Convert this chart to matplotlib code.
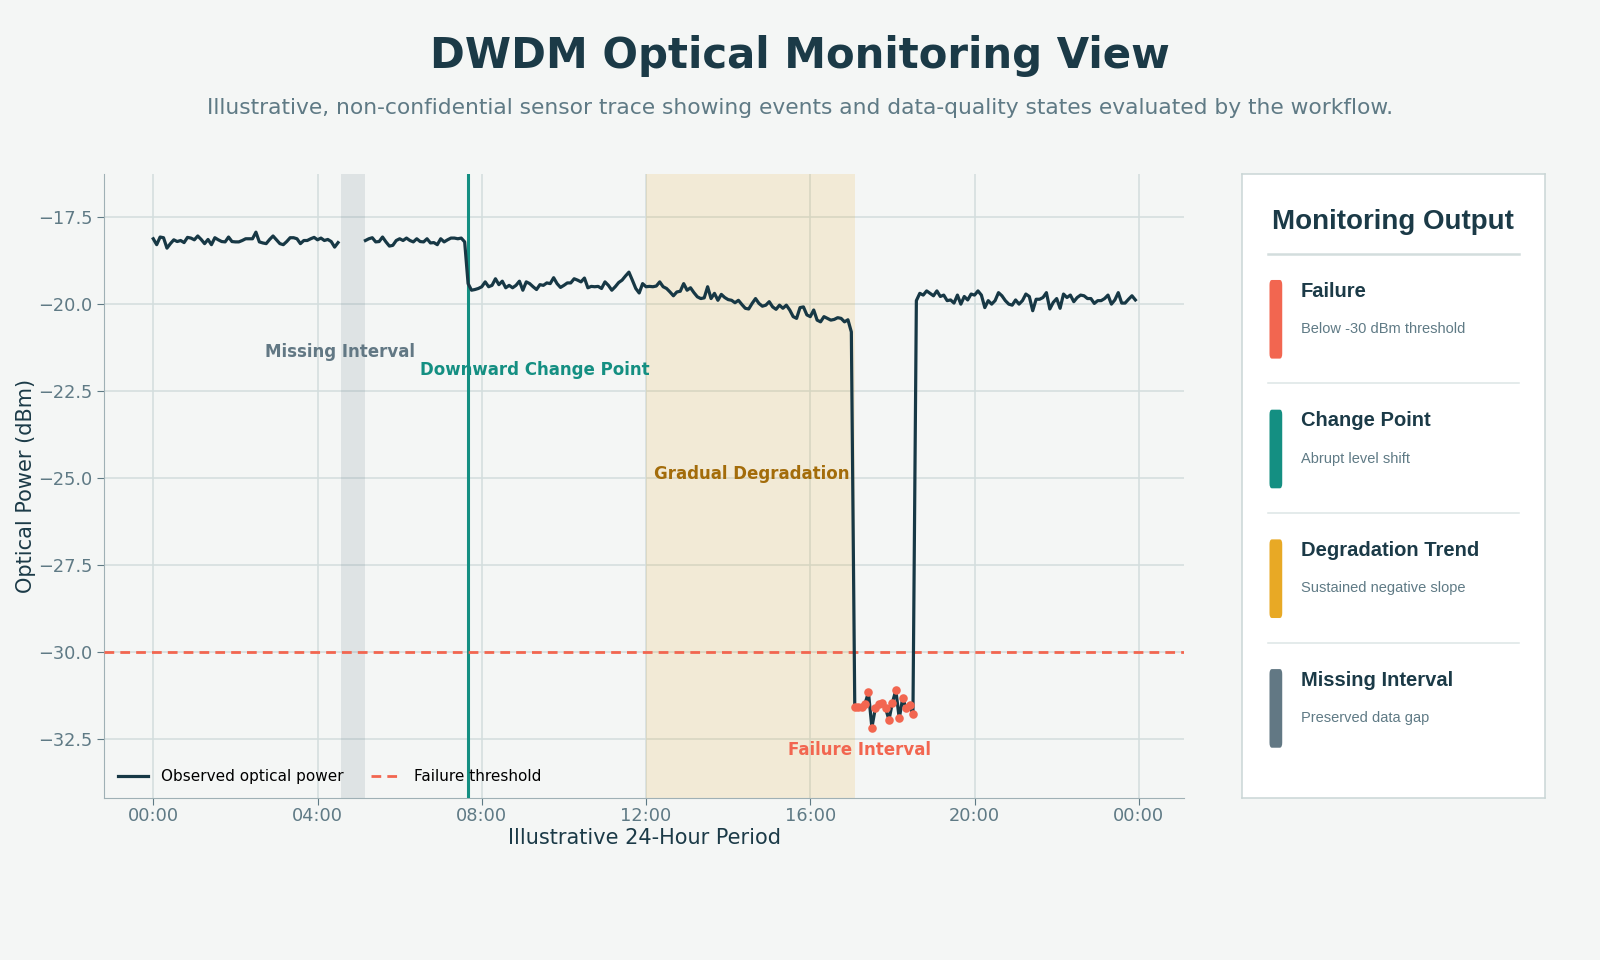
import numpy as np
import matplotlib

matplotlib.use("Agg")
import matplotlib.pyplot as plt
from matplotlib.lines import Line2D
from matplotlib.patches import FancyBboxPatch
from matplotlib.ticker import FuncFormatter, MultipleLocator

# ---- data (5-minute samples over 24 h) ----
SAMPLES_PER_HOUR = 12

seg_before_gap = [
    -18.12, -18.29, -18.07, -18.09, -18.39, -18.26, -18.15, -18.20, -18.17, -18.23,
    -18.08, -18.10, -18.15, -18.04, -18.14, -18.26, -18.14, -18.29, -18.09, -18.15,
    -18.20, -18.21, -18.07, -18.20, -18.21, -18.21, -18.17, -18.12, -18.12, -18.12,
    -17.93, -18.21, -18.24, -18.26, -18.14, -18.04, -18.15, -18.26, -18.29, -18.20,
    -18.09, -18.09, -18.12, -18.26, -18.17, -18.17, -18.12, -18.08, -18.15, -18.10,
    -18.17, -18.14, -18.20, -18.36, -18.23,
]
gap_len = 7
seg_after_gap = [
    -18.17, -18.12, -18.09, -18.21, -18.20, -18.07, -18.21, -18.33, -18.31, -18.17,
    -18.12, -18.17, -18.10, -18.17, -18.21, -18.12, -18.20, -18.21, -18.12, -18.24,
    -18.23, -18.29, -18.12, -18.21, -18.15, -18.10, -18.10, -18.12, -18.10, -18.21,
]
seg_degrading = [
    -19.41, -19.60, -19.58, -19.55, -19.50, -19.36, -19.50, -19.46, -19.27,
    -19.44, -19.34, -19.53, -19.46, -19.53, -19.46, -19.34, -19.60, -19.36, -19.41,
    -19.50, -19.58, -19.44, -19.46, -19.39, -19.41, -19.24, -19.41, -19.52, -19.46,
    -19.39, -19.39, -19.27, -19.31, -19.36, -19.25, -19.53, -19.49, -19.50, -19.49,
    -19.55, -19.36, -19.46, -19.60, -19.50, -19.38, -19.31, -19.19, -19.08, -19.31,
    -19.55, -19.68, -19.41, -19.50, -19.49, -19.50, -19.48, -19.36, -19.50, -19.55,
    -19.65, -19.76, -19.65, -19.63, -19.41, -19.60, -19.53, -19.67, -19.79, -19.84,
    -19.82, -19.50, -19.84, -19.69, -19.89, -19.72, -19.81, -19.87, -19.89,
    -19.96, -19.89, -20.01, -20.12, -20.14, -19.98, -19.84, -19.98, -20.06, -20.03,
    -19.93, -20.08, -20.15, -20.03, -20.12, -20.03, -20.17, -20.36, -20.41, -20.10,
    -20.08, -20.31, -20.36, -20.17, -20.46, -20.51, -20.36, -20.41, -20.46,
    -20.44, -20.39, -20.41, -20.51, -20.45, -20.80,
]
seg_failure = [
    -31.60, -31.60, -31.58, -31.49, -31.17, -32.18, -31.63, -31.49, -31.46,
    -31.63, -31.96, -31.46, -31.11, -31.92, -31.33, -31.63, -31.54, -31.80,
]
seg_recovered = [
    -19.90, -19.69, -19.74, -19.62, -19.69, -19.76, -19.62, -19.78, -19.74, -19.90,
    -19.88, -19.97, -19.74, -20.00, -19.78, -19.88, -19.71, -19.74, -19.62, -19.74,
    -20.10, -19.90, -20.00, -19.90, -19.67, -19.76, -19.90, -20.00, -20.03, -19.88,
    -20.00, -19.90, -19.71, -19.78, -20.19, -19.86, -19.86, -19.81, -19.67, -20.14,
    -19.95, -19.84, -20.12, -19.71, -19.81, -19.74, -19.93, -19.81, -19.74, -19.76,
    -19.84, -19.84, -19.98, -19.90, -19.90, -19.84, -19.74, -20.00, -19.88, -19.67,
    -19.97, -19.97, -19.86, -19.76, -19.88,
]

power = np.array(seg_before_gap + [np.nan] * gap_len + seg_after_gap
                 + seg_degrading + seg_failure + seg_recovered)
hours = np.arange(len(power)) / SAMPLES_PER_HOUR

FAILURE_THRESHOLD = -30.0
missing_span = (4 + 35 / 60, 5 + 10 / 60)
change_point = 7 + 40 / 60
degradation_span = (12.0, 17 + 5 / 60)

legend_items = [
    ("Failure", "Below -30 dBm threshold", "#f26650"),
    ("Change Point", "Abrupt level shift", "#148f82"),
    ("Degradation Trend", "Sustained negative slope", "#e8a925"),
    ("Missing Interval", "Preserved data gap", "#627884"),
]

# ---- styling ----
BG = "#f4f6f5"
NAVY = "#173845"
TITLE = "#1b3a47"
MUTED = "#5f7a85"
RED = "#f26650"
TEAL = "#148f82"
GOLD = "#e8a925"
GOLD_TEXT = "#a36c0a"
GRAY = "#627884"
GRID = "#d3dddd"

plt.rcParams["font.family"] = ["DejaVu Sans"]

fig = plt.figure(figsize=(16, 9.6), dpi=100, facecolor=BG)
fig.text(0.5, 0.942, "DWDM Optical Monitoring View", ha="center", va="center",
         fontsize=30.2, fontweight="bold", color=TITLE)
fig.text(0.5, 0.887,
         "Illustrative, non-confidential sensor trace showing events and "
         "data-quality states evaluated by the workflow.",
         ha="center", va="center", fontsize=15.7, color=MUTED)

ax = fig.add_axes([0.0651, 0.169, 0.6752, 0.650])
ax.set_facecolor(BG)

ax.axvspan(*missing_span, color=GRAY, alpha=0.15, lw=0, zorder=1)
ax.axvspan(*degradation_span, color=GOLD, alpha=0.15, lw=0, zorder=1)
ax.axvline(change_point, color=TEAL, lw=2.2, zorder=3)
ax.axhline(FAILURE_THRESHOLD, color=RED, lw=2, ls=(0, (3.5, 2.2)), zorder=3)

ax.plot(hours, power, color=NAVY, lw=2.3, zorder=4)
fail = power < FAILURE_THRESHOLD
ax.scatter(hours[fail], power[fail], s=38, color=RED, zorder=5, lw=0)

ax.text(4.55, -21.38, "Missing Interval", ha="center", va="center",
        fontsize=12, fontweight="bold", color=GRAY)
ax.text(9.28, -21.90, "Downward Change Point", ha="center", va="center",
        fontsize=12, fontweight="bold", color=TEAL)
ax.text(14.58, -24.88, "Gradual Degradation", ha="center", va="center",
        fontsize=12, fontweight="bold", color=GOLD_TEXT)
ax.text(17.2, -32.83, "Failure Interval", ha="center", va="center",
        fontsize=12, fontweight="bold", color=RED)

ax.set_ylim(-34.2, -16.25)
ax.xaxis.set_major_locator(MultipleLocator(4))
ax.yaxis.set_major_locator(MultipleLocator(2.5))
ax.xaxis.set_major_formatter(FuncFormatter(lambda v, _: f"{int(v) % 24:02d}:00"))
ax.grid(color=GRID, lw=1.1, zorder=0)
ax.set_axisbelow(True)
for side in ("top", "right"):
    ax.spines[side].set_visible(False)
for side in ("left", "bottom"):
    ax.spines[side].set_color("#9fb0b5")
ax.tick_params(colors=MUTED, labelsize=12.8, length=5)
ax.tick_params(axis="x", pad=2)
ax.set_xlabel("Illustrative 24-Hour Period", fontsize=15, color=TITLE, labelpad=2)
ax.set_ylabel("Optical Power (dBm)", fontsize=15, color=TITLE, labelpad=1)

handles = [
    Line2D([], [], color=NAVY, lw=2.3, label="Observed optical power"),
    Line2D([], [], color=RED, lw=2, ls=(0, (3.5, 2.2)), label="Failure threshold"),
]
ax.legend(handles=handles, loc="lower left", ncol=2, frameon=False,
          fontsize=11, handlelength=2.0, handletextpad=0.8, columnspacing=1.8,
          bbox_to_anchor=(0.0, 0.0))

# ---- side panel ----
panel = fig.add_axes([0.776, 0.169, 0.1895, 0.650])
panel.set_xlim(0, 1)
panel.set_ylim(0, 1)
panel.set_xticks([])
panel.set_yticks([])
panel.set_facecolor("white")
for s in panel.spines.values():
    s.set_color("#cad6d6")
    s.set_linewidth(1.1)

pfont = ["Liberation Sans", "DejaVu Sans"]
panel.text(0.5, 0.923, "Monitoring Output", ha="center", va="center",
           fontsize=20, fontweight="bold", color=TITLE, family=pfont)
panel.plot([0.088, 0.916], [0.872, 0.872], color="#d3dddd", lw=1.8)

px_h = 611.0  # panel height in reference pixels
for k, (head, desc, col) in enumerate(legend_items):
    off = 127 * k
    y_head = (781 - (285 + off)) / px_h
    y_desc = (781 - (322 + off)) / px_h
    y_bot = (781 - (351 + off)) / px_h
    y_top = (781 - (274 + off)) / px_h
    panel.add_patch(FancyBboxPatch((0.092, y_bot), 0.042, y_top - y_bot,
                                   boxstyle="round,pad=0,rounding_size=0.008",
                                   facecolor=col, edgecolor="none"))
    panel.text(0.195, y_head, head, ha="left", va="center", fontsize=14.5,
               fontweight="bold", color=TITLE, family=pfont)
    panel.text(0.195, y_desc, desc, ha="left", va="center", fontsize=10.5,
               color=MUTED, family=pfont)
    if k < len(legend_items) - 1:
        y_sep = (781 - (375 + off)) / px_h
        panel.plot([0.088, 0.916], [y_sep, y_sep], color="#dde5e5", lw=1.1)

fig.savefig("out.png", dpi=100, facecolor=BG)
